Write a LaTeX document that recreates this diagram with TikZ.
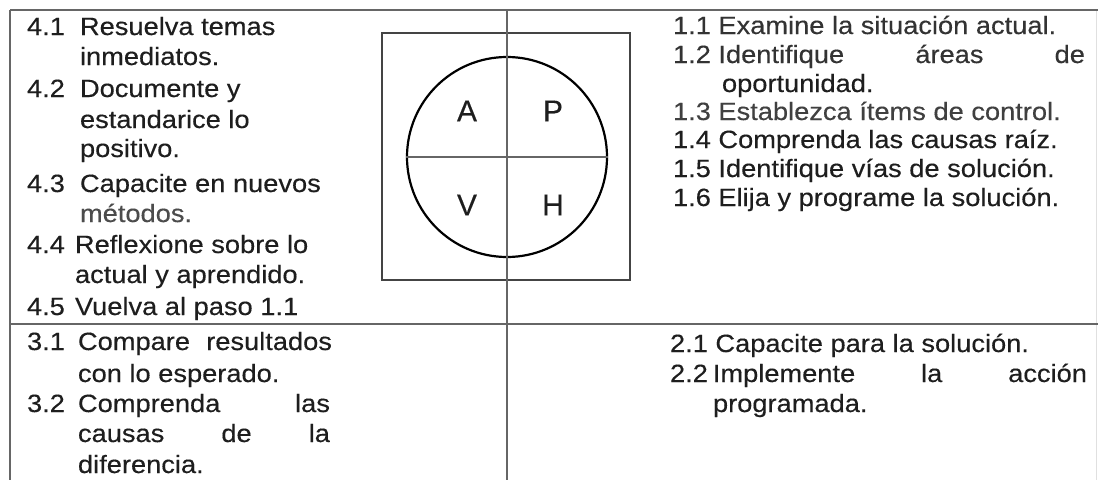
\documentclass[tikz,border=0pt]{standalone}
\usepackage{fontspec}
\setmainfont{Liberation Sans}
\newfontfamily\tfont[FakeStretch=1.09,FakeBold=0.3]{Liberation Sans}
\newfontfamily\lfont[FakeBold=0.3]{Liberation Sans}
\definecolor{gridgray}{HTML}{666666}
\definecolor{sqgray}{HTML}{444444}
\definecolor{txtcol}{HTML}{1E1E1E}
\begin{document}
\begin{tikzpicture}[x=1pt,y=-1pt,
  tx/.style={anchor=base west,inner sep=0pt,outer sep=0pt,text=txtcol,font=\tfont\fontsize{25}{29}\selectfont},
  grid/.style={draw=gridgray,line width=1.8pt},
  letter/.style={inner sep=0pt,text=txtcol,font=\lfont\fontsize{30}{30}\selectfont}]
\useasboundingbox[fill=white] (0,0) rectangle (1098,480);
% table coordinates
\coordinate (tl) at (10,10);
\coordinate (bl) at (10,480);
\coordinate (tr) at (1098,10);
\coordinate (tm) at (507,10);
\coordinate (bm) at (507,480);
\coordinate (ml) at (10,324);
\coordinate (mr) at (1098,324);
\coordinate (rt) at (1096,10);
\coordinate (rb) at (1096,480);
\draw[draw=black!12,line width=1pt] (rt) -- (rb);
\draw[grid] (tl) -- (tr);
\draw[grid] (tl) -- (bl);
\draw[grid] (ml) -- (mr);
% square and circle
\node[draw=sqgray,line width=2.5pt,minimum width=248pt,minimum height=247pt,inner sep=0pt] (sq) at (506,156.5) {};
\node[draw=black,line width=2.2pt,circle,minimum size=200pt,inner sep=0pt] (circ) at (507,157) {};
\draw[grid] (tm) -- (bm);
\draw[draw=gridgray,line width=1.8pt] (circ.west) -- (circ.east);
\node[letter] (A) at (467,111) {A};
\node[letter] (P) at (553,111) {P};
\node[letter] (V) at (467,205) {V};
\node[letter] (H) at (553,205) {H};
% left top
\node[tx] (n41) at (27,35) {4.1};
\node[tx] (t41) at (80,35) {Resuelva temas};
\node[tx] (t41b) at (80,65) {inmediatos.};
\node[tx] (n42) at (27,97) {4.2};
\node[tx] (t42) at (80,97) {Documente y};
\node[tx] (t42b) at (80,128) {estandarice lo};
\node[tx] (t42c) at (80,157) {positivo.};
\node[tx] (n43) at (27,192) {4.3};
\node[tx] (t43) at (80,192) {Capacite en nuevos};
\node[tx,text=black!70] (t43b) at (80,222) {métodos.};
\node[tx] (n44) at (27,253) {4.4};
\node[tx] (t44) at (75,253) {Reflexione sobre lo};
\node[tx] (t44b) at (75,283) {actual y aprendido.};
\node[tx] (n45) at (27,315) {4.5};
\node[tx] (t45) at (75,315) {Vuelva al paso 1.1};
% left bottom
\node[tx] (n31) at (27,350) {3.1};
\node[tx] (t31) at (78,350) {\hbox to 254pt{Compare\hfill resultados}};
\node[tx] (t31b) at (78,382) {con lo esperado.};
\node[tx] (n32) at (27,412) {3.2};
\node[tx] (t32) at (78,412) {\hbox to 252pt{Comprenda\hfill las}};
\node[tx] (t32b) at (78,442) {\hbox to 252pt{causas\hfill de\hfill la}};
\node[tx] (t32c) at (78,473) {diferencia.};
% right top
\node[tx,text=black!80] (t11) at (673,34) {1.1 Examine la situación actual.};
\node[tx,text=black!80] (t12) at (673,63) {\hbox to 412pt{1.2 Identifique\hfill áreas\hfill de}};
\node[tx] (t12b) at (722,92) {oportunidad.};
\node[tx,text=black!75] (t13) at (673,120) {1.3 Establezca ítems de control.};
\node[tx] (t14) at (673,148) {1.4 Comprenda las causas raíz.};
\node[tx] (t15) at (673,177) {1.5 Identifique vías de solución.};
\node[tx] (t16) at (673,206) {1.6 Elija y programe la solución.};
% right bottom
\node[tx] (t21) at (670,352) {2.1 Capacite para la solución.};
\node[tx] (t22) at (670,382) {\hbox to 417pt{2.2\hskip5pt Implemente\hfill la\hfill acción}};
\node[tx] (t22b) at (713,412) {programada.};
\end{tikzpicture}
\end{document}
